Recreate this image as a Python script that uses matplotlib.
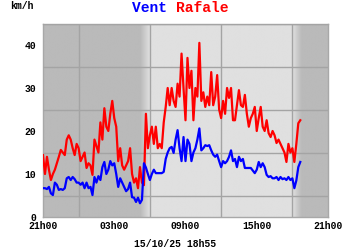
import numpy as np
import matplotlib
matplotlib.use("Agg")
import matplotlib.pyplot as plt
from matplotlib.colors import LinearSegmentedColormap

# wind speed (km/h), one reading every 10 min from 21h00
vent = [6.7, 6.7, 6.5, 7, 5.5, 5.1, 8, 7.5, 6.3, 6.5,
        6.3, 6.7, 9, 9.3, 8.6, 9.3, 8.8, 8, 8, 7.5,
        8, 6.7, 8, 6.7, 7, 5.1, 9.3, 8, 9.5, 8.6,
        11.6, 12.8, 10, 11, 13, 12, 12.5, 10, 7, 9,
        8, 7, 6, 6.5, 8, 4.6, 4.5, 3.5, 4.5, 3.2,
        4, 12.5, 11.5, 10, 8.6, 10, 11, 10.2, 10.2, 10.2,
        10.2, 10.5, 13.5, 15, 16, 16.3, 14.9, 18, 20.2, 16,
        13, 18.6, 13, 18, 17, 13, 15, 16, 18, 20.6,
        15.5, 16, 16.7, 16.5, 16.7, 15.5, 14.5, 14, 14.5, 13,
        11.6, 13, 12.5, 13, 14, 15.5, 13, 13.5, 11.6, 14,
        13, 13.5, 11.4, 11.4, 11.4, 11.4, 10.8, 10.2, 11, 12.8,
        11.6, 12.5, 11.6, 9.8, 9.3, 9.5, 9, 9, 9.3, 8.6,
        9.3, 8.8, 9, 8.6, 9.3, 8.6, 9, 6.7, 8.5, 11.6,
        12.8]

rafale = [14.4, 10, 14, 11, 8.6, 10, 11, 12.5, 14, 15.6,
          15, 14.4, 18, 19, 18, 16, 14.4, 17, 16, 13,
          14, 15, 11.4, 12.5, 12, 9.8, 18, 16.5, 15, 22,
          18, 25.3, 21, 20, 24, 27, 23, 21, 13, 16,
          12, 11, 12, 13, 16, 10, 8, 9, 6.7, 11.6,
          8, 7.4, 24, 16, 19, 21, 17, 21, 16, 17,
          16, 22, 25.6, 30, 26, 30, 27, 25.6, 31, 28,
          38, 30, 22.5, 37, 30, 34, 22.5, 30, 28, 40.5,
          27, 29, 25.6, 28, 26, 33.7, 26, 28, 33, 25,
          23, 27, 24, 30, 27.7, 30, 22.5, 22.5, 26, 29.5,
          26, 25.6, 28.4, 24, 21, 23, 24, 25.6, 20, 23,
          25.6, 21, 20, 22.5, 19.5, 18.6, 20, 19, 17.2, 18,
          17, 16, 15, 12.8, 17, 15, 16, 12.8, 17, 21.8,
          22.5]

hour_labels = ["21h00", "03h00", "09h00", "15h00", "21h00"]
y_labels = ["0", "10", "20", "30", "40"]
stamp = "15/10/25 18h55"

t = np.arange(len(vent)) * 10 / 60.0  # hours since 21h00

fig = plt.figure(figsize=(3.5, 2.5), dpi=100)
ax = fig.add_axes([43 / 350, 33 / 250, 285 / 350, 193.5 / 250])

# night / day background
xs = np.linspace(0, 24, 961)
shade = np.interp(xs, [0, 8.2, 9.0, 21.0, 21.8, 24], [0, 0, 1, 1, 0, 0])
cmap = LinearSegmentedColormap.from_list("nd", ["#bababa", "#e0e0e0"])
ax.imshow(shade[None, :], aspect="auto", cmap=cmap, extent=[0, 24, 0, 45],
          origin="lower", zorder=0, vmin=0, vmax=1)

ax.set_xlim(0, 24)
ax.set_ylim(0, 45)
ax.set_xticks([0, 6, 12, 18, 24])
ax.set_xticklabels(hour_labels)
ax.set_xticks(np.arange(0, 25, 3), minor=True)
ax.set_yticks([0, 10, 20, 30, 40])
ax.set_yticklabels(y_labels)
ax.set_yticks(np.arange(0, 46, 5), minor=True)
ax.grid(which="minor", color="#a4a4a4", linewidth=1.0, zorder=1)
ax.set_axisbelow(False)
ax.tick_params(which="both", length=0)
ax.tick_params(axis="x", pad=3)
ax.tick_params(axis="y", pad=5)
for lab in ax.get_xticklabels() + ax.get_yticklabels():
    lab.set_fontfamily("Liberation Mono")
    lab.set_fontweight("bold")
    lab.set_fontsize(7)
for s in ax.spines.values():
    s.set_color("#a8a8a8")
    s.set_linewidth(1.0)

ax.plot(t, rafale, color="#ff0000", linewidth=1.6, zorder=3)
ax.plot(t, vent, color="#0000ff", linewidth=1.6, zorder=4)

mono = dict(fontfamily="Liberation Mono", fontweight="bold")
fig.text(10 / 350, 1 - 6 / 250, "km/h", fontsize=7, va="center", ha="left", **mono)
fig.text(176 / 350, 1 - 8 / 250, "Vent ", fontsize=10.5, color="#0000ff",
         va="center", ha="right", **mono)
fig.text(176 / 350, 1 - 8 / 250, "Rafale", fontsize=10.5, color="#ff0000",
         va="center", ha="left", **mono)
fig.text(175 / 350, 1 - 244 / 250, stamp, fontsize=7, va="center", ha="center", **mono)

fig.savefig("out.png", dpi=100)
